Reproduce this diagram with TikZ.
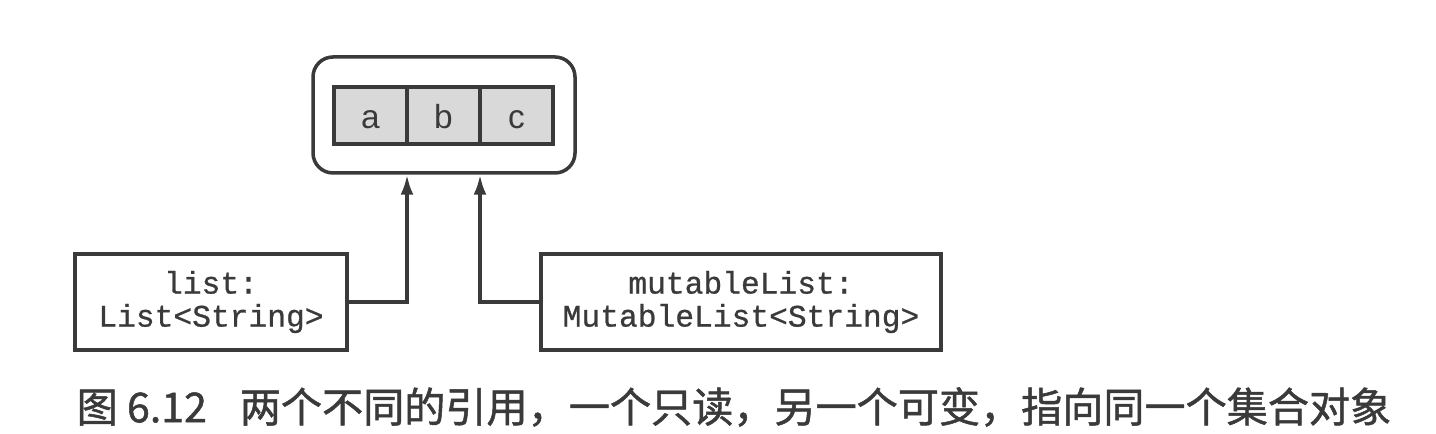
\documentclass[tikz,border=0pt]{standalone}
\usepackage{fontspec}
\usetikzlibrary{positioning}
\usetikzlibrary{arrows.meta}
\newfontfamily\monofont{Liberation Mono}[FakeBold=0.8]
\newfontfamily\cellfont{Liberation Sans}
\newfontfamily\cjk{Noto Sans CJK SC}[FakeBold=1.2]
\definecolor{ink}{HTML}{3A3A3A}
\definecolor{cellgray}{HTML}{D9D9D9}
\tikzset{
  cell/.style={draw=ink, fill=cellgray, line width=1pt, inner sep=0pt, outer sep=0pt,
    minimum width=0.73cm, minimum height=0.57cm, text height=0.72em, text depth=0pt,
    font=\cellfont\fontsize{9.5}{10}\selectfont, text=ink},
  refbox/.style={draw=ink, line width=1pt, align=center, inner sep=0pt,
    minimum height=0.96cm, text=ink,
    font=\monofont\fontsize{8.9}{9.4}\selectfont},
  pointer/.style={draw=ink, line width=1pt, -{Latex[length=2mm,width=1.3mm]}}
}

\begin{document}
\begin{tikzpicture}
\useasboundingbox (0,0) rectangle (14.36,4.34);
% the collection object
\node[draw=ink, line width=1pt, rounded corners=0.2cm,
  minimum width=2.62cm, minimum height=1.16cm] (coll) at (4.44,3.19) {};
\node[cell] (a) at (3.705,3.185) {a};
\node[cell, right=0pt of a] (b) {b};
\node[cell, right=0pt of b] (c) {c};
% the two references
\node[refbox, minimum width=2.72cm] (lst) at (2.11,1.32) {list:\\List<String>};
\node[refbox, minimum width=4.0cm] (mlst) at (7.41,1.32) {mutableList:\\MutableList<String>};
\draw[pointer] (lst.east) -| (coll.south -| b.west);
\draw[pointer] (mlst.west) -| (coll.south -| c.west);
% caption
\node[anchor=west, inner sep=0pt, text=ink, font=\cjk\fontsize{11.7}{12}\selectfont]
  (cap) at (0.76,0.27) {图 6.12\hspace{0.8em}两个不同的引用，一个只读，另一个可变，指向同一个集合对象};
\end{tikzpicture}
\end{document}
